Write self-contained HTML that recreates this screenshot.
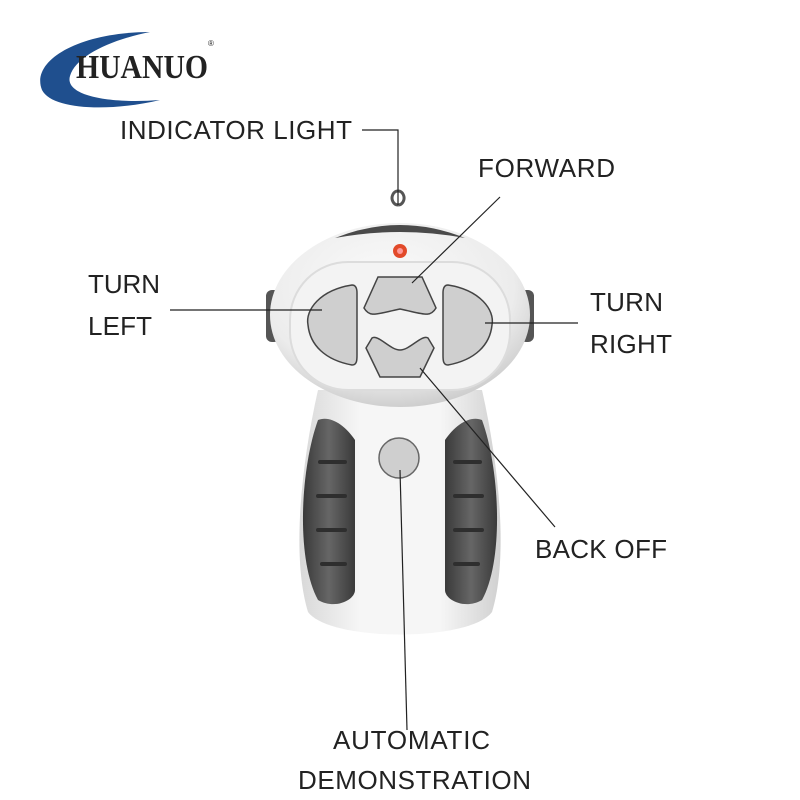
<!DOCTYPE html>
<html><head><style>body{margin:0;background:#fff}svg{display:block}text{font-family:"Liberation Sans",sans-serif;fill:#222}</style></head><body>
<svg width="800" height="800" viewBox="0 0 800 800">
<defs>
<radialGradient id="wg" cx="0.45" cy="0.35" r="0.75"><stop offset="0" stop-color="#fbfbfb"/><stop offset="0.65" stop-color="#ececec"/><stop offset="1" stop-color="#bdbdbd"/></radialGradient>
<linearGradient id="bg" x1="0" x2="1"><stop offset="0" stop-color="#d8d8d8"/><stop offset="0.3" stop-color="#f6f6f6"/><stop offset="0.7" stop-color="#f6f6f6"/><stop offset="1" stop-color="#d0d0d0"/></linearGradient>
<linearGradient id="dg" x1="0" x2="1"><stop offset="0" stop-color="#3a3a3a"/><stop offset="0.5" stop-color="#666"/><stop offset="1" stop-color="#3a3a3a"/></linearGradient>
</defs>
<path d="M150 32 C80 32 30 60 42 90 C52 110 110 112 160 100 C110 104 64 96 70 76 C76 56 110 40 150 32Z" fill="#1f4f8e"/>
<text x="76" y="78" font-weight="bold" font-size="34" style="font-family:'Liberation Serif',serif" fill="#111" textLength="132" lengthAdjust="spacingAndGlyphs">HUANUO</text>
<text x="208" y="46" font-size="8">®</text>
<path d="M318 390 L482 390 C500 470 508 560 492 612 C470 642 330 642 308 612 C292 560 300 470 318 390Z" fill="url(#bg)"/>
<path d="M318 420 C300 470 296 560 318 600 C335 610 355 600 355 590 L355 440 C345 425 330 415 318 420Z" fill="url(#dg)"/>
<path d="M482 420 C500 470 504 560 482 600 C465 610 445 600 445 590 L445 440 C455 425 470 415 482 420Z" fill="url(#dg)"/>
<g fill="none" stroke="#2e2e2e" stroke-width="4" stroke-linecap="round">
<path d="M320 462 H345"/><path d="M318 496 H345"/><path d="M318 530 H345"/><path d="M322 564 H345"/>
<path d="M455 462 H480"/><path d="M455 496 H482"/><path d="M455 530 H482"/><path d="M455 564 H478"/>
</g>
<rect x="266" y="290" width="14" height="52" rx="6" fill="#555"/>
<rect x="520" y="290" width="14" height="52" rx="6" fill="#555"/>
<path d="M398 205 a6 7 0 1 1 0.1 0" fill="none" stroke="#555" stroke-width="3"/>
<ellipse cx="400" cy="315" rx="130" ry="92" fill="url(#wg)"/>
<path d="M335 238 Q400 212 465 238 Q400 226 335 238Z" fill="#4a4a4a"/>
<rect x="290" y="262" width="220" height="128" rx="58" fill="#f3f3f3" stroke="#dcdcdc" stroke-width="2"/>
<circle cx="400" cy="251" r="7" fill="#e24a2a"/><circle cx="400" cy="251" r="3" fill="#f99"/>
<g fill="#cfcfcf" stroke="#444" stroke-width="1.5">
<path d="M352 285 C320 290 305 310 308 325 C310 345 325 360 352 365 C357 365 357 360 357 355 L357 293 C357 287 355 285 352 285Z"/>
<path d="M448 285 C480 290 495 310 492 325 C490 345 475 360 448 365 C443 365 443 360 443 355 L443 293 C443 287 445 285 448 285Z"/>
<path d="M378 277 L422 277 L436 308 C430 318 424 314 400 309 C376 314 370 318 364 308Z"/>
<path d="M372 338 C378 334 390 350 400 350 C410 350 422 334 428 338 L434 348 L420 377 L380 377 L366 348Z"/>
</g>
<circle cx="399" cy="458" r="20" fill="#cfcfcf" stroke="#666" stroke-width="1.5"/>
<g stroke="#222" stroke-width="1.2" fill="none">
<path d="M362 130 H398 V205"/>
<path d="M500 197 L412 283"/>
<path d="M170 310 H322"/>
<path d="M485 323 H578"/>
<path d="M420 368 L555 527"/>
<path d="M400 470 L407 730"/>
</g>
<g font-size="26" lengthAdjust="spacingAndGlyphs">
<text x="120" y="139" textLength="232">INDICATOR LIGHT</text>
<text x="478" y="177" textLength="137">FORWARD</text>
<text x="88" y="293" textLength="72">TURN</text>
<text x="88" y="335" textLength="64">LEFT</text>
<text x="590" y="311" textLength="73">TURN</text>
<text x="590" y="353" textLength="82">RIGHT</text>
<text x="535" y="558" textLength="132">BACK OFF</text>
<text x="333" y="749" textLength="157">AUTOMATIC</text>
<text x="298" y="789" textLength="233">DEMONSTRATION</text>
</g>
</svg>
</body></html>
